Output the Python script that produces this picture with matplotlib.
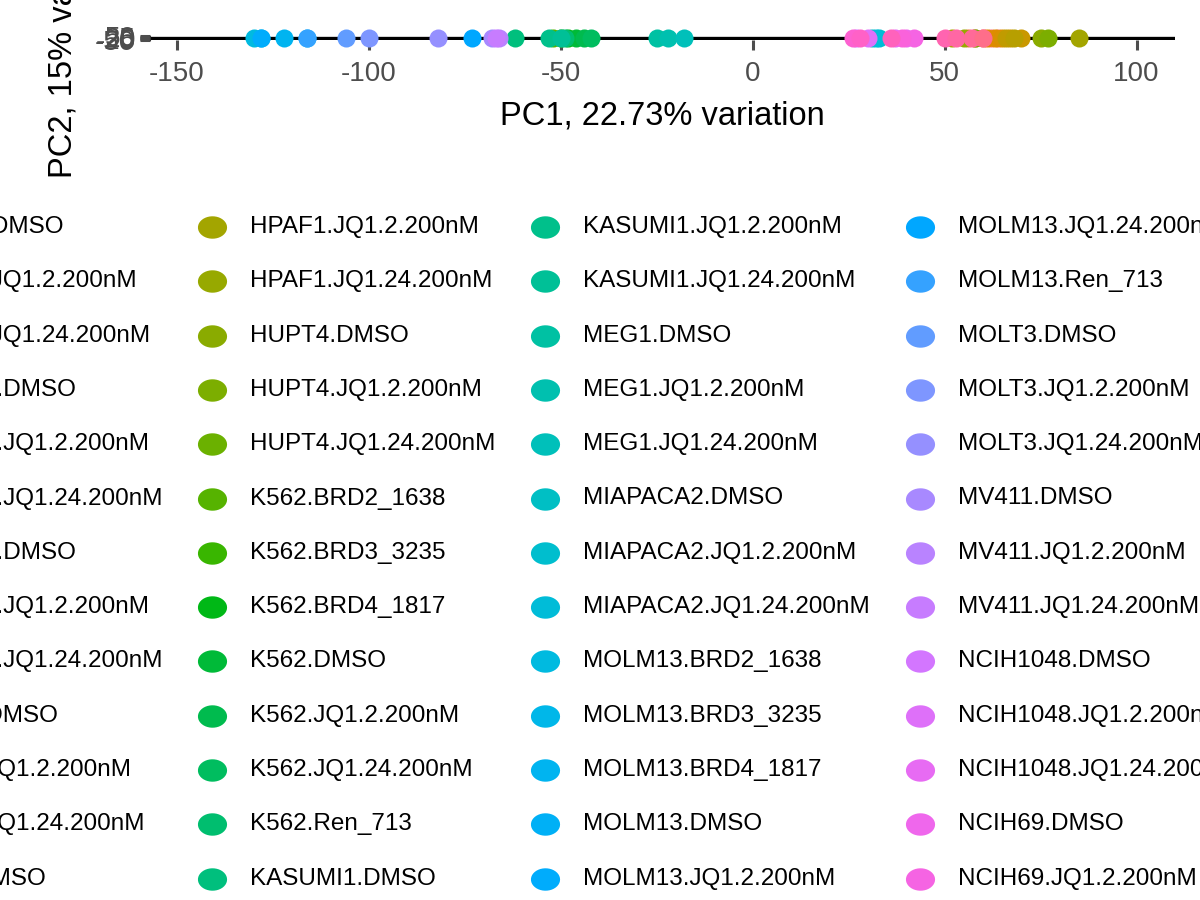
import numpy as np
import matplotlib
matplotlib.use("Agg")
import matplotlib.pyplot as plt
from matplotlib.path import Path

plt.rcParams['font.family'] = ['Liberation Sans', 'DejaVu Sans']
plt.rcParams['axes.unicode_minus'] = False

# sample labels, in legend order (5 columns x 13 rows, ggplot order)
samples = [
    "CAPAN1.DMSO", "CAPAN1.JQ1.2.200nM", "CAPAN1.JQ1.24.200nM",
    "HCC1806.DMSO", "HCC1806.JQ1.2.200nM", "HCC1806.JQ1.24.200nM",
    "HCC1937.DMSO", "HCC1937.JQ1.2.200nM", "HCC1937.JQ1.24.200nM",
    "HCT116.DMSO", "HCT116.JQ1.2.200nM", "HCT116.JQ1.24.200nM",
    "HPAF1.DMSO",
    "HPAF1.JQ1.2.200nM", "HPAF1.JQ1.24.200nM", "HUPT4.DMSO",
    "HUPT4.JQ1.2.200nM", "HUPT4.JQ1.24.200nM", "K562.BRD2_1638",
    "K562.BRD3_3235", "K562.BRD4_1817", "K562.DMSO", "K562.JQ1.2.200nM",
    "K562.JQ1.24.200nM", "K562.Ren_713", "KASUMI1.DMSO",
    "KASUMI1.JQ1.2.200nM", "KASUMI1.JQ1.24.200nM", "MEG1.DMSO",
    "MEG1.JQ1.2.200nM", "MEG1.JQ1.24.200nM", "MIAPACA2.DMSO",
    "MIAPACA2.JQ1.2.200nM", "MIAPACA2.JQ1.24.200nM", "MOLM13.BRD2_1638",
    "MOLM13.BRD3_3235", "MOLM13.BRD4_1817", "MOLM13.DMSO",
    "MOLM13.JQ1.2.200nM",
    "MOLM13.JQ1.24.200nM", "MOLM13.Ren_713", "MOLT3.DMSO",
    "MOLT3.JQ1.2.200nM", "MOLT3.JQ1.24.200nM", "MV411.DMSO",
    "MV411.JQ1.2.200nM", "MV411.JQ1.24.200nM", "NCIH1048.DMSO",
    "NCIH1048.JQ1.2.200nM", "NCIH1048.JQ1.24.200nM", "NCIH69.DMSO",
    "NCIH69.JQ1.2.200nM",
    "NCIH69.JQ1.24.200nM", "NCIH82.DMSO", "NCIH82.JQ1.2.200nM",
    "NCIH82.JQ1.24.200nM", "PANC1.DMSO", "PANC1.JQ1.2.200nM",
    "PANC1.JQ1.24.200nM", "SUDHL6.DMSO",
]

# PC1 scores, same order as samples
pc1 = [
    60, 62, 64, 56, 58, 61, 63, 65, 67, 70, 66, 68, 52,
    85, 55, 75, 77, 58, -52, -50, -48, -46, -44, -42, -49, -62,
    -53, -50, -25, -22, -18, 31, 33, 32, -130, -128, -122, -116, -128,
    -73, -116, -106, -100, -82, -68, -66, -67, 27, 30, 37, 40, 42,
    39, 26, 28, 36, 50, 53, 57, 60,
]
pc2 = [0] * len(samples)

xticks = [-150, -100, -50, 0, 50, 100]
yticks = [-50, -25, 0, 25, 50]


def hcl_to_hex(h, c=100.0, l=65.0):
    hr = np.deg2rad(h)
    u, v = c * np.cos(hr), c * np.sin(hr)
    xn, yn, zn = 95.047, 100.0, 108.883
    un = 4 * xn / (xn + 15 * yn + 3 * zn)
    vn = 9 * yn / (xn + 15 * yn + 3 * zn)
    y = yn * ((l + 16) / 116) ** 3 if l > 8 else yn * l / 903.3
    up = u / (13 * l) + un
    vp = v / (13 * l) + vn
    x = 9 * y * up / (4 * vp)
    z = -x / 3 - 5 * y + 3 * y / vp
    xyz = np.array([x, y, z]) / 100
    m = np.array([[3.2406, -1.5372, -0.4986],
                  [-0.9689, 1.8758, 0.0415],
                  [0.0557, -0.2040, 1.0570]])
    rgb = m @ xyz
    rgb = np.where(rgb <= 0.0031308, 12.92 * rgb,
                   1.055 * np.clip(rgb, 0, None) ** (1 / 2.4) - 0.055)
    rgb = np.clip(rgb, 0, 1)
    return '#%02x%02x%02x' % tuple(int(round(c_ * 255)) for c_ in rgb)


n = len(samples)
colors = [hcl_to_hex((15 + 360 * (i - 1) / n) % 360) for i in range(n)]

# the reference is stretched sideways: use a wide ellipse marker
t = np.linspace(0, 2 * np.pi, 40)
wide = Path(np.column_stack([1.3 * np.cos(t), np.sin(t)]), closed=True)

fig = plt.figure(figsize=(12, 9), dpi=100)
ax = fig.add_axes([150 / 1200, 1 - 40 / 900, 1025 / 1200, 4 / 900])
ax.set_xlim(-157, 110)
ax.set_ylim(-60, 60)
ax.axhline(0, color='black', lw=2.4, zorder=1)
for x, y, c in zip(pc1, pc2, colors):
    ax.plot(x, y, 'o', ms=13, color=c, mec='none', clip_on=False, zorder=3)
for s in ['top', 'right', 'bottom']:
    ax.spines[s].set_visible(False)
ax.spines['left'].set_color('#333333')
ax.set_xticks(xticks)
ax.set_yticks(yticks)
ax.tick_params(axis='x', colors='#4d4d4d', labelsize=20, length=7, width=2.2, pad=8)
ax.tick_params(axis='y', colors='#4d4d4d', labelsize=20, length=7, width=2.2)
for lab in ax.get_xticklabels() + ax.get_yticklabels():
    lab.set_color('#4d4d4d')
ax.set_xlabel("PC1, 22.73% variation", fontsize=23.5, labelpad=10)
ax.set_ylabel("PC2, 15% variation", fontsize=23.5, labelpad=12)

# legend drawn on an overlay in pixel units
lg = fig.add_axes([0, 0, 1, 1])
lg.set_xlim(0, 1200)
lg.set_ylim(900, 0)
lg.axis('off')
col_x = [-148, 212, 545, 920, 1320]
for i, (s, c) in enumerate(zip(samples, colors)):
    col, row = divmod(i, 13)
    y = 227 + row * 54.3
    lg.plot(col_x[col], y, marker=wide, ms=21, color=c, mec='none', clip_on=False)
    lg.text(col_x[col] + 38, y, s, fontsize=17.5, va='center', ha='left')

fig.savefig("out.png", dpi=100)
